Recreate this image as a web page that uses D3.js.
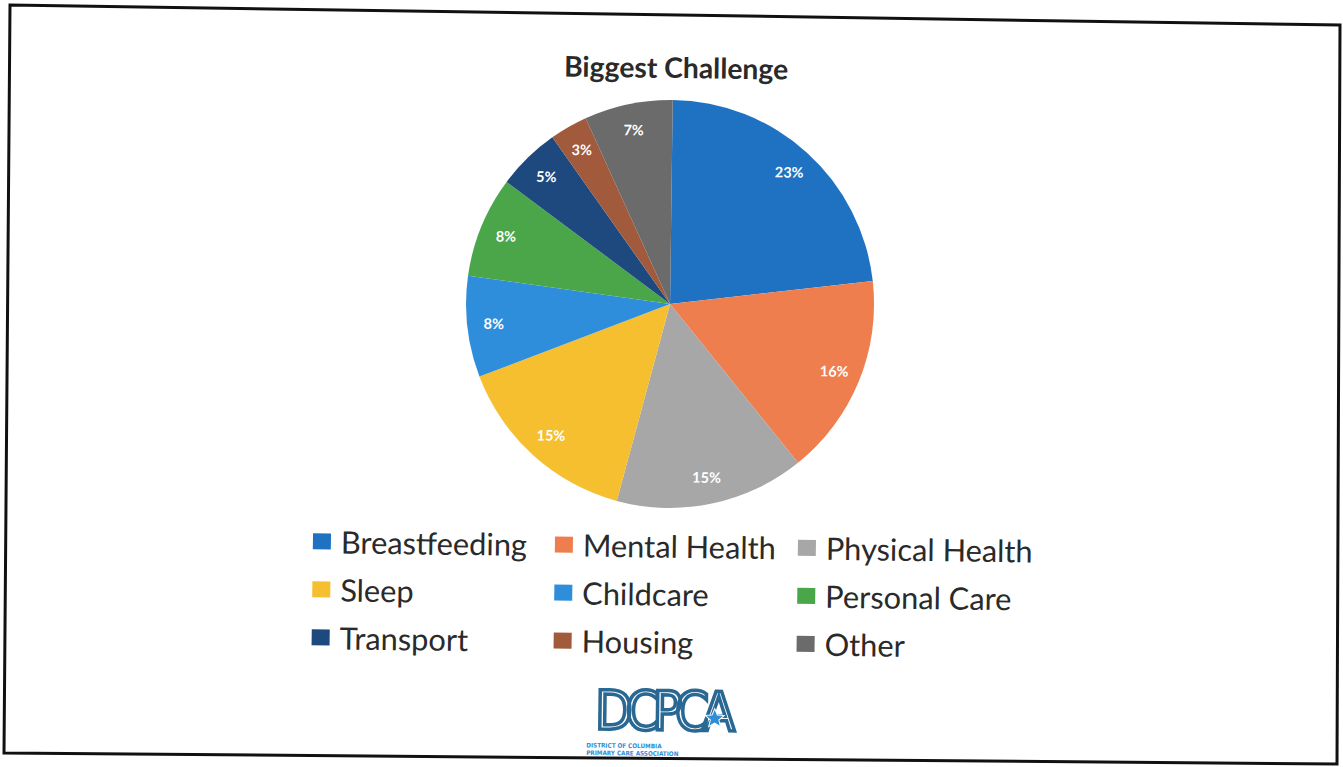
<!DOCTYPE html>
<html><head><meta charset="utf-8">
<script src="https://cdn.jsdelivr.net/npm/d3@7"></script>
<style>html,body{margin:0;padding:0;background:#fff;}svg{display:block;}</style>
</head><body>
<svg id="c" width="1343" height="767"></svg>
<script>
const title = "Biggest Challenge";
const categories = ["Breastfeeding","Mental Health","Physical Health","Sleep","Childcare","Personal Care","Transport","Housing","Other"];
const values = [23,16,15,15,8,8,5,3,7];
const colors = ["#1f72c2","#ef7e4e","#a7a7a7","#f5bf2f","#2f8edb","#4ba64a","#1d497f","#a15a3c","#6b6b6b"];
const logoText = "DCPCA";
const logoSub = ["DISTRICT OF COLUMBIA","PRIMARY CARE ASSOCIATION"];

const svg = d3.select("#c");
// scanned page frame
svg.append("polygon")
  .attr("points","10,5 1340,25 1337,764 4,753")
  .attr("fill","#fff").attr("stroke","#111").attr("stroke-width",3);

const g = svg.append("g").attr("transform","rotate(0.75,672,385)");

g.append("text").attr("x",672).attr("y",78).attr("text-anchor","middle")
  .attr("font-family","Lato, sans-serif").attr("font-weight","bold").attr("font-size",28.3)
  .attr("fill","#2a2a2a").text(title);

const cx = 669, cy = 304, R = 204;
const pie = d3.pie().sort(null).value(d=>d)(values);
const arc = d3.arc().innerRadius(0).outerRadius(R);
const labelArc = d3.arc().innerRadius(R*0.87).outerRadius(R*0.87);
const pg = g.append("g").attr("transform",`translate(${cx},${cy})`);
pg.selectAll("path").data(pie).join("path")
  .attr("d",arc).attr("fill",(d,i)=>colors[i]);
pg.selectAll("text").data(pie).join("text")
  .attr("transform",d=>`translate(${labelArc.centroid(d)})`)
  .attr("text-anchor","middle").attr("dy","0.35em")
  .attr("font-family","Lato, sans-serif").attr("font-weight","bold").attr("font-size",14.5)
  .attr("fill","#fff").text(d=>d.data+"%");

// legend 3 columns
const colX = [315,557,800], rowY = [547,595,643];
const lg = g.append("g");
categories.forEach((c,i)=>{
  const x = colX[i%3], y = rowY[Math.floor(i/3)];
  lg.append("rect").attr("x",x).attr("y",y-9).attr("width",18).attr("height",16).attr("fill",colors[i]);
  lg.append("text").attr("x",x+28).attr("y",y).attr("dy","0.35em")
    .attr("font-family","Lato, sans-serif").attr("font-size",30.8).attr("fill","#2a2a2a").text(c);
});

// logo
const lgo = g.append("g");
lgo.append("text").attr("x",666).attr("y",730).attr("text-anchor","middle")
  .attr("font-family","'DejaVu Sans Condensed', sans-serif").attr("font-size",54)
  .attr("letter-spacing",-7).attr("fill","none").attr("stroke","#2a6894").attr("stroke-width",3.5)
  .text(logoText);
const star = d3.range(10).map(k=>{const r = k%2?4.5:10, a = -Math.PI/2 + k*Math.PI/5; return [719+r*Math.cos(a), 718+r*Math.sin(a)];});
lgo.append("polygon").attr("points",star.map(p=>p.join(",")).join(" ")).attr("fill","#2f8ed6").attr("stroke","#fff").attr("stroke-width",1);
logoSub.forEach((t,i)=>{
  lgo.append("text").attr("x",591).attr("y",748.5+i*7.5)
    .attr("font-family","'DejaVu Sans Condensed', sans-serif").attr("font-weight","bold").attr("font-size",6.3)
    .attr("fill","#2f8ed6").text(t);
});
</script>
</body></html>
